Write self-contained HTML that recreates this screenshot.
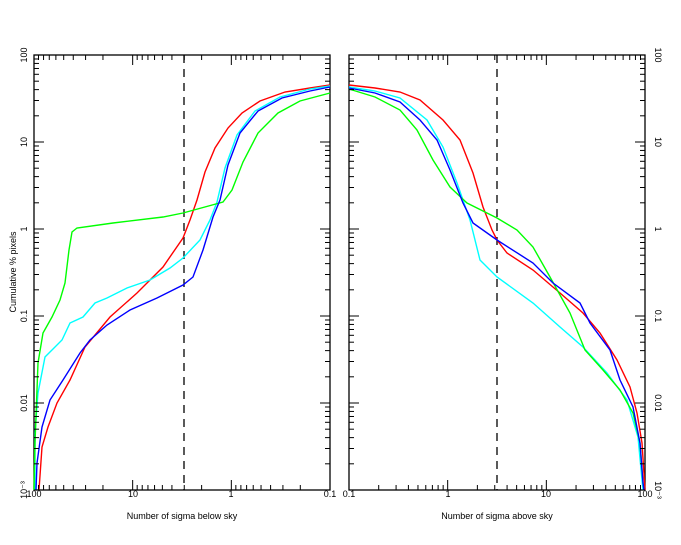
<!DOCTYPE html>
<html><head><style>body{margin:0;background:#fff}svg{display:block}</style></head><body>
<svg id="s" width="681" height="545" xmlns="http://www.w3.org/2000/svg" font-family="Liberation Sans, sans-serif" font-size="9">
<rect width="681" height="545" fill="#fff"/>
<g id="ax" stroke="#000" stroke-width="1.3" fill="none">
<rect x="34" y="55" width="296" height="435"/>
<rect x="349" y="55" width="296" height="435"/>
</g>
<g stroke="#000" stroke-width="1.3" stroke-dasharray="8,6">
<line x1="184" y1="55" x2="184" y2="490"/>
<line x1="497" y1="55" x2="497" y2="490"/>
</g>
<g fill="none" stroke-width="1.4">
<polyline stroke="#f00" points="39,490 42,447 48,427 57,403 70,380 85,347 110,317 137,293 163,267 183,238 190,220 197,200 205,172 215,148 228,128 242,113 260,101 285,92 310,88 330,85"/>
<polyline stroke="#0ff" points="35,490 35,433 38,393 45,357 52,350 62,340 70,323 83,317 95,303 107,298 127,288 150,280 170,268 183,258 200,240 210,220 217,202 225,168 237,135 255,111 280,97 310,89 330,86"/>
<polyline stroke="#0f0" points="34,490 35,443 38,363 43,333 52,317 60,300 65,283 69,250 72,232 77,228 113,223 163,217 183,213 223,202 232,190 243,162 258,133 278,113 300,101 330,93"/>
<polyline stroke="#00f" points="36,490 37,463 42,427 50,400 63,380 80,353 90,340 107,325 130,310 157,298 183,285 193,277 203,250 213,217 220,200 228,165 240,133 258,111 282,98 310,91 330,87"/>
<polyline stroke="#f00" points="349,85 375,88 400,92 420,100 443,120 460,140 473,173 483,207 492,230 497,240 507,253 533,270 560,293 583,313 600,333 617,360 630,387 637,413 642,443 645,490"/>
<polyline stroke="#0ff" points="349,87 375,91 400,98 427,120 443,147 457,183 470,220 480,260 497,277 533,303 560,327 583,347 607,373 627,400 638,437 642,480 643,490"/>
<polyline stroke="#0f0" points="349,89 375,97 400,110 417,130 433,160 450,187 467,203 497,218 517,230 533,247 550,277 570,313 585,350 603,370 620,390 633,413 640,443 643,483 644,490"/>
<polyline stroke="#00f" points="349,88 375,93 400,102 420,120 437,140 450,170 463,203 473,223 497,240 533,263 553,283 580,303 590,323 610,350 620,380 633,407 640,443 643,483 644,490"/>
</g>
<g id="tk" stroke="#000" stroke-width="1"></g>
<g id="tx" fill="#000"></g>
<text x="182" y="519" text-anchor="middle">Number of sigma below sky</text>
<text x="497" y="519" text-anchor="middle">Number of sigma above sky</text>
<text transform="translate(16,272) rotate(-90)" text-anchor="middle">Cumulative % pixels</text>
</svg>
<script>
var tk=document.getElementById('tk'),tx=document.getElementById('tx'),ns='http://www.w3.org/2000/svg';
function L(a,b,c,d){var e=document.createElementNS(ns,'line');e.setAttribute('x1',a);e.setAttribute('y1',b);e.setAttribute('x2',c);e.setAttribute('y2',d);tk.appendChild(e);}
function T(x,y,s,r){var e=document.createElementNS(ns,'text');e.textContent=s;e.setAttribute('text-anchor','middle');if(r)e.setAttribute('transform','translate('+x+','+y+') rotate('+r+')');else{e.setAttribute('x',x);e.setAttribute('y',y);}tx.appendChild(e);}
var dx=98.67,dy=87;
for(var d=0;d<3;d++)for(var m=1;m<10;m++){var o=Math.log10(m)*dx;var big=m==1;var h=big?10:5;
 var xl=330-d*dx-o; L(xl,490,xl,490-h);L(xl,55,xl,55+h);
 var xr=349+d*dx+o; L(xr,490,xr,490-h);L(xr,55,xr,55+h);}
for(var d=0;d<5;d++)for(var m=1;m<10;m++){var y=490-d*dy-Math.log10(m)*dy;var h=m==1?10:5;
 L(34,y,34+h,y);L(330,y,330-h,y);L(349,y,349+h,y);L(645,y,645-h,y);}
T(34,497,'100');T(133,497,'10');T(231,497,'1');T(330,497,'0.1');
T(349,497,'0.1');T(448,497,'1');T(546,497,'10');T(645,497,'100');
var yl=['10\u207B\u00B3','0.01','0.1','1','10','100'];
for(var i=0;i<6;i++){var y=490-i*dy;T(27,y,yl[i],-90);T(655,y,yl[i],90);}
</script>
</body></html>
